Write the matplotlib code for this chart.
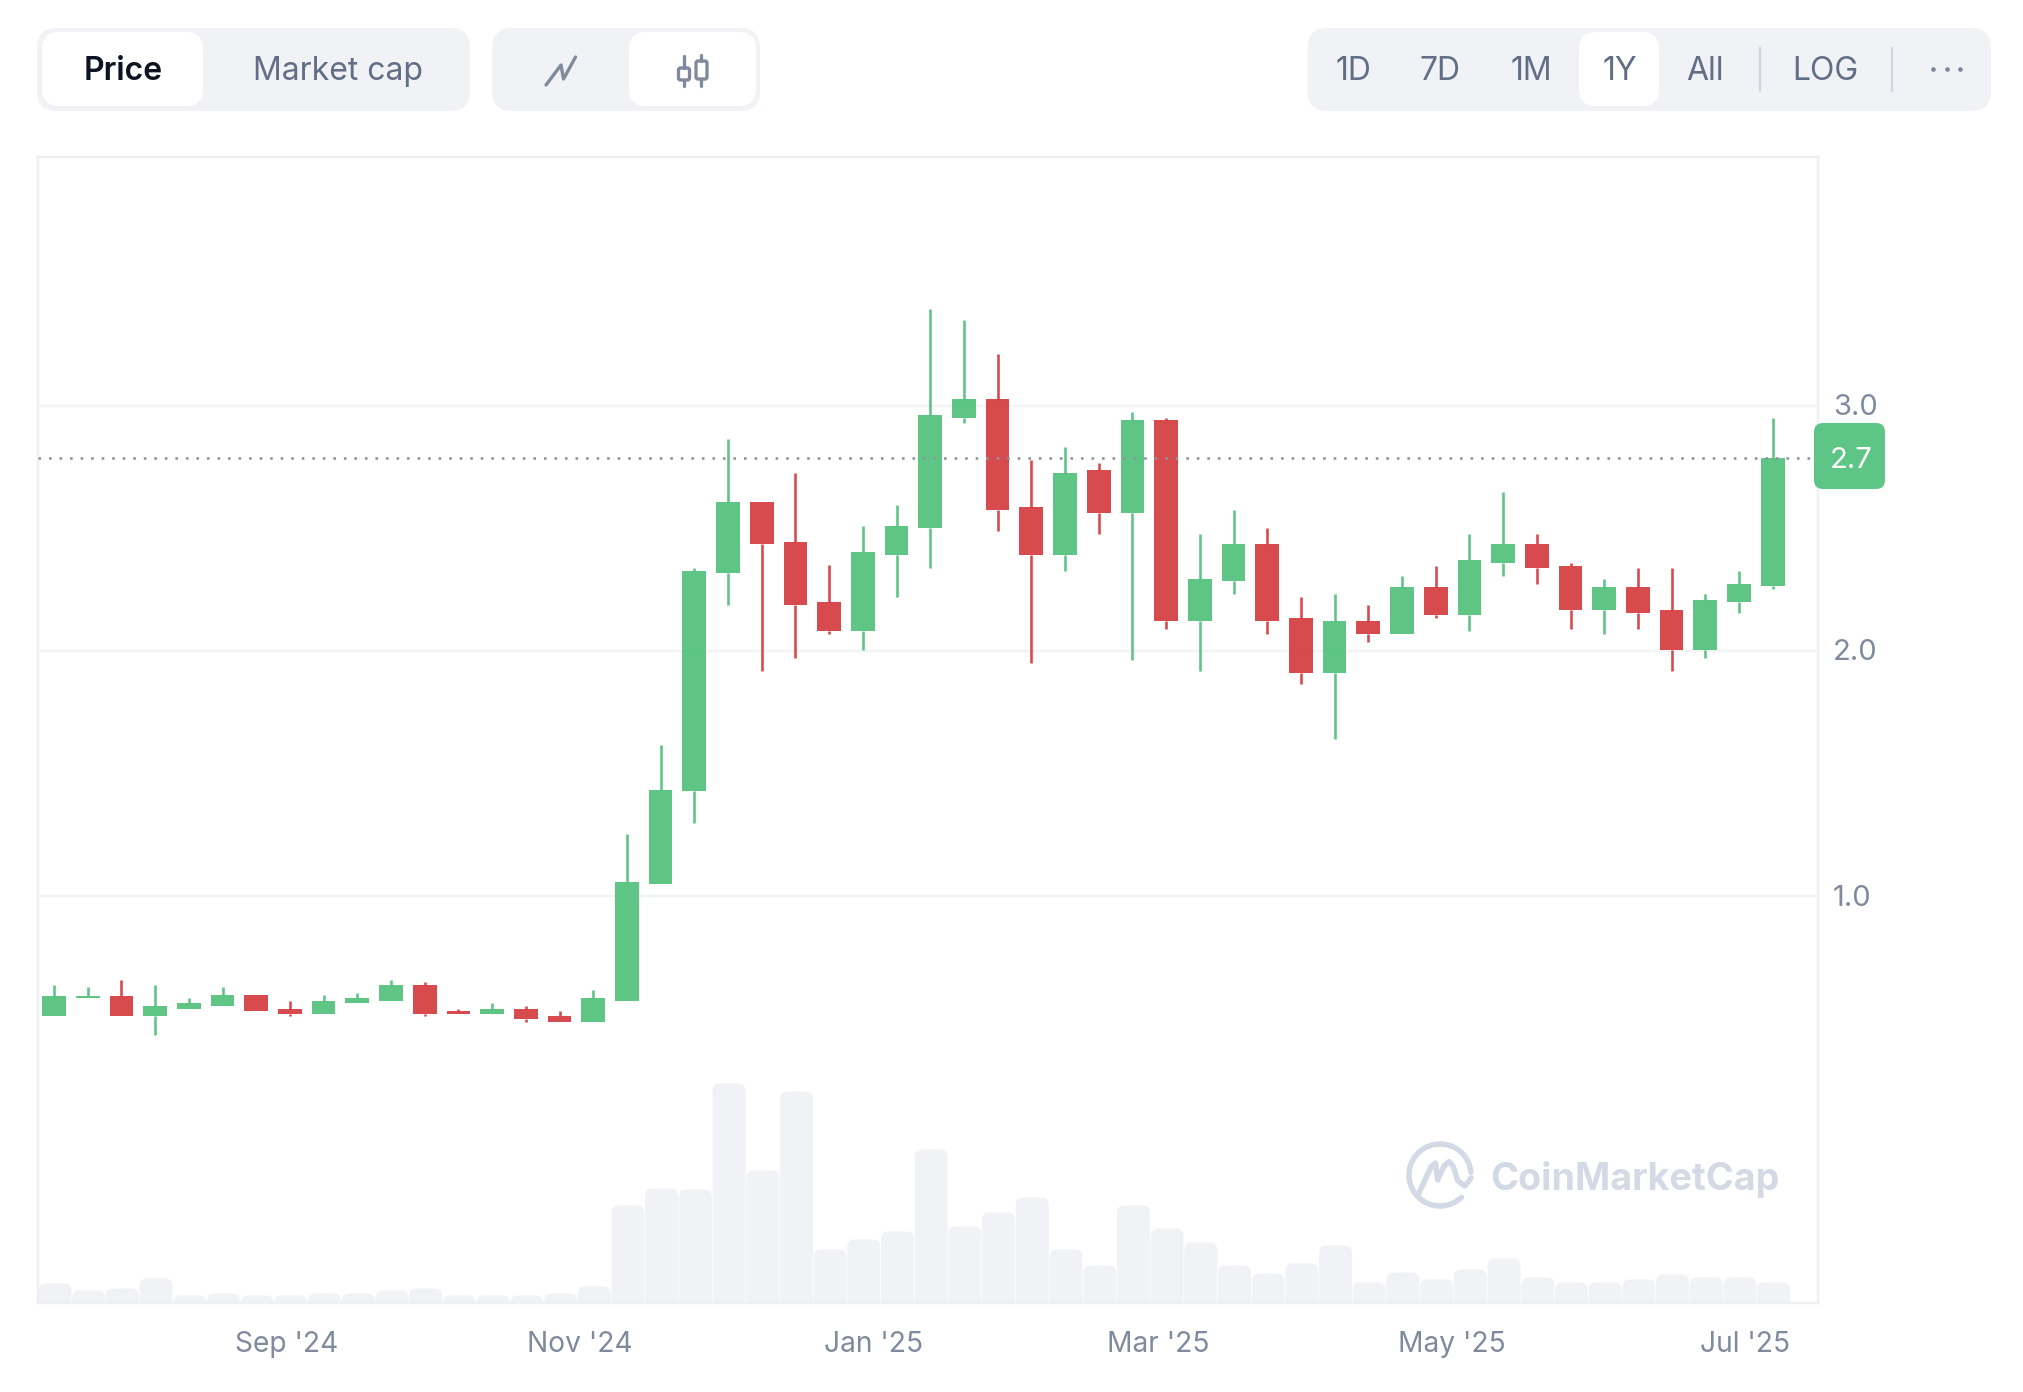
import matplotlib
matplotlib.use("Agg")
import matplotlib.pyplot as plt
import matplotlib.dates as mdates
import numpy as np
import pandas as pd
from matplotlib.patches import FancyBboxPatch, Rectangle, Arc
from matplotlib.lines import Line2D
from matplotlib.transforms import ScaledTranslation

plt.rcParams['font.family'] = ['Inter', 'DejaVu Sans']

# ---- data ----
dates = pd.date_range('2024-07-15', periods=52, freq='7D')
opens = [.511,.587,.595,.511,.542,.553,.596,.542,.522,.564,.575,.639,.533,.522,.542,.511,.489,.575,1.05,1.429,
         2.317,2.607,2.446,2.198,2.080,2.391,2.500,2.951,3.027,2.586,2.391,2.736,2.564,2.940,2.124,2.285,2.435,2.133,
         1.909,2.124,2.069,2.262,2.145,2.360,2.435,2.348,2.167,2.262,2.166,2.005,2.198,2.264]
closes = [.595,.595,.511,.553,.564,.596,.533,.522,.575,.586,.639,.522,.522,.542,.500,.489,.586,1.060,1.433,2.326,
          2.607,2.436,2.189,2.080,2.402,2.510,2.962,3.027,2.575,2.391,2.726,2.564,2.940,2.124,2.295,2.435,2.124,1.909,
          2.124,2.069,2.262,2.145,2.370,2.435,2.340,2.167,2.262,2.156,2.005,2.208,2.273,2.788]
highs = [.639,.629,.659,.639,.586,.629,.596,.575,.596,.607,.659,.649,.542,.564,.553,.533,.618,1.254,1.617,2.337,
         2.864,2.607,2.726,2.349,2.510,2.595,3.393,3.349,3.209,2.779,2.833,2.768,2.973,2.951,2.478,2.575,2.500,2.220,
         2.231,2.187,2.306,2.348,2.478,2.650,2.477,2.360,2.294,2.338,2.338,2.231,2.326,2.951]
lows = [.511,.587,.511,.435,.542,.553,.533,.511,.522,.564,.575,.511,.522,.522,.489,.489,.489,.575,1.05,1.297,
        2.189,1.920,1.973,2.069,2.004,2.222,2.340,2.929,2.489,1.952,2.327,2.478,1.963,2.091,1.920,2.231,2.069,1.865,
        1.640,2.038,2.069,2.135,2.082,2.307,2.275,2.091,2.071,2.091,1.920,1.973,2.156,2.253]
volumes = [19,12,14,24,7,9,7,7,9,9,12,14,7,7,7,9,16,97,114,113,219,132,211,53,63,71,153,76,90,105,53,37,97,74,60,
           37,29,39,57,20,30,23,33,44,25,20,20,23,28,25,25,20]
price_ticks = [1.0, 2.0, 3.0]
price_tick_labels = ['1.0', '2.0', '3.0']
last_price = 2.785
last_price_label = '2.7'
month_ticks = ['2024-09-01', '2024-11-01', '2025-01-01', '2025-03-01', '2025-05-01', '2025-07-01']
month_labels = ["Sep '24", "Nov '24", "Jan '25", "Mar '25", "May '25", "Jul '25"]

# ---- style ----
W, H = 2024, 1392
L, R, T, B = 38, 1818.5, 157, 1302.5
PANEL = '#F0F2F6'
GRID = '#F1F3F5'
GREEN = '#4CBF78'
RED = '#D33639'
TICK = '#808A9D'
UI = '#616E85'
PX = 72 / 100  # points per pixel

fig = plt.figure(figsize=(W / 100, H / 100), dpi=100, facecolor='white')
rect = [L / W, 1 - B / H, (R - L) / W, (B - T) / H]

x = mdates.date2num(dates)
day_px = 33.7 / 7
x0 = x[0] - (54 - L) / day_px
x1 = x[0] + (R - 54) / day_px

# volume panel (underneath)
axv = fig.add_axes(rect, zorder=1)
axv.set_xlim(x0, x1)
axv.set_ylim(0, B - T)
axv.axis('off')
bar_w = 33.0 / day_px
offset = 1.0 / day_px
rad = 7.5 / day_px
for xi, v in zip(x, volumes):
    axv.add_patch(FancyBboxPatch((xi + offset - bar_w / 2, -30), bar_w, v + 30,
                                 boxstyle=f'round,pad=0,rounding_size={rad}',
                                 mutation_aspect=day_px, fc=PANEL, ec='none', clip_on=True))

# price panel
ax = fig.add_axes(rect, zorder=2)
ax.patch.set_alpha(0)
ax.set_xlim(x0, x1)
ax.set_ylim(3 - (B - 405.7) / 245.3, 3 + (405.7 - T) / 245.3)
for s in ax.spines.values():
    s.set_color('#EEF0F3')
    s.set_linewidth(2.5 * PX)
ax.set_yticks(price_ticks, price_tick_labels)
ax.yaxis.tick_right()
ax.tick_params(axis='y', length=0, pad=10.4, labelsize=21, labelcolor=TICK)
for lab in ax.get_yticklabels():
    lab.set_transform(lab.get_transform() + ScaledTranslation(0, 1.3 / 100, fig.dpi_scale_trans))
ax.set_xticks(mdates.date2num(pd.to_datetime(month_ticks)), month_labels)
ax.tick_params(axis='x', length=0, pad=20.8, labelsize=20.3, labelcolor=TICK)
for lab in ax.get_xticklabels():
    lab.set_transform(lab.get_transform() + ScaledTranslation(1.5 / 100, 0, fig.dpi_scale_trans))
ax.grid(axis='y', color=GRID, lw=2.5 * PX, zorder=0)
ax.set_axisbelow(True)

body_w = 23.7 / day_px
for xi, o, h, l, c in zip(x, opens, highs, lows, closes):
    col = GREEN if c >= o else RED
    top, bot = max(o, c), min(o, c)
    ax.bar(xi, top - bot, bottom=bot, width=body_w, color=col, alpha=0.9, zorder=3, linewidth=0)
    ax.vlines(xi, top, h, color=col, alpha=0.9, lw=2.6 * PX, zorder=3)
    ax.vlines(xi, l, bot, color=col, alpha=0.9, lw=2.6 * PX, zorder=3)
ax.axhline(last_price, color='#8E949C', lw=2.6 * PX, ls=(0, (1, 3.05)), zorder=4)

# ---- interface chrome in pixel coordinates ----
ui = fig.add_axes([0, 0, 1, 1], zorder=3)
ui.set_xlim(0, W)
ui.set_ylim(H, 0)
ui.axis('off')


def box(x0_, y0_, x1_, y1_, color, r):
    ui.add_patch(FancyBboxPatch((x0_, y0_), x1_ - x0_, y1_ - y0_,
                                boxstyle=f'round,pad=0,rounding_size={r}', fc=color, ec='none'))


box(37, 28, 470, 111, PANEL, 20)
box(42, 32, 203, 106, 'white', 17)
box(492, 28, 760, 111, PANEL, 20)
box(629, 32, 756, 106, 'white', 17)
box(1307.5, 28, 1991, 111, PANEL, 20)
box(1579, 32, 1659, 106, 'white', 17)

TY = 68
ui.text(123.5, TY, 'Price', ha='center', va='center_baseline', fontsize=23, fontweight='semibold', color='#0D1421')
ui.text(338, TY, 'Market cap', ha='center', va='center_baseline', fontsize=23, color=UI)
for cx, s in zip([1353.5, 1440.5, 1531, 1619.5, 1705, 1825.5], ['1D', '7D', '1M', '1Y', 'All', 'LOG']):
    ui.text(cx, TY, s, ha='center', va='center_baseline', fontsize=23, color=UI)
for sx in [1760, 1892]:
    ui.add_line(Line2D([sx, sx], [48, 91], color='#CFD6E4', lw=2.2 * PX))
ui.plot([1932.6, 1946.8, 1959.6], [69, 69, 69], 'o', ms=4.2 * PX * 1.1, color='#7A869A', mew=0)

# line icon
ICON = '#808A9D'
ui.add_line(Line2D([546, 561, 563.5, 575.5], [85, 65, 79, 57], color=ICON, lw=3.3 * PX,
                   solid_capstyle='round', solid_joinstyle='round'))
# candle icon
for cx, w0, w1, b0, b1 in [(684, 56, 86, 68, 80), (701.5, 55, 86, 61, 79)]:
    ui.add_line(Line2D([cx, cx], [w0, b0], color=ICON, lw=3.3 * PX, solid_capstyle='round'))
    ui.add_line(Line2D([cx, cx], [b1, w1], color=ICON, lw=3.3 * PX, solid_capstyle='round'))
    ui.add_patch(FancyBboxPatch((cx - 5.5, b0), 11, b1 - b0, boxstyle='round,pad=0,rounding_size=2',
                                fc='none', ec=ICON, lw=3.3 * PX))

# current price tag
box(1814, 423, 1885, 489, '#5DC687', 9)
ui.text(1851, 457, last_price_label, ha='center', va='center_baseline', fontsize=21, color='white')

# watermark
WM = '#D3DAE6'
ui.add_patch(Arc((1440, 1175), 62, 62, theta1=46, theta2=355, color=WM, lw=5.5 * PX, capstyle='round'))
ui.add_line(Line2D([1418.5, 1431, 1435.4, 1437.7, 1444, 1449, 1453, 1458, 1465, 1471],
                   [1194, 1167, 1163, 1180, 1166, 1161.7, 1166, 1181, 1186, 1178],
                   color=WM, lw=5.5 * PX, solid_capstyle='round', solid_joinstyle='round'))
ui.text(1490, 1190, 'CoinMarketCap', ha='left', va='baseline', fontsize=27.2, fontweight='bold', color=WM)

fig.savefig('out.png', dpi=100)
